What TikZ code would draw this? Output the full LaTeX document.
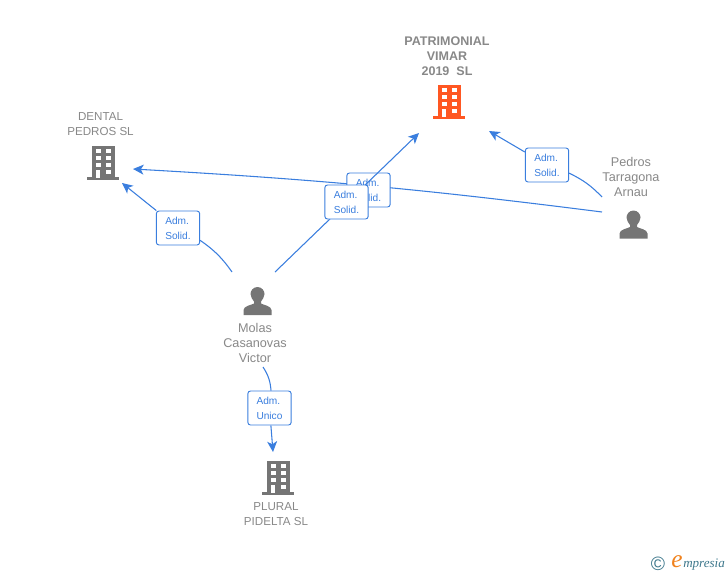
\documentclass[tikz,border=0pt]{standalone}
\usepackage{fontspec}
\setmainfont{Liberation Sans}
\newfontfamily\logofont{Liberation Serif}
\usetikzlibrary{arrows.meta}
\usetikzlibrary{positioning}
\definecolor{linkblue}{RGB}{58,126,222}
\definecolor{labelgray}{RGB}{136,136,136}
\definecolor{icongray}{RGB}{117,117,117}
\definecolor{iconorange}{RGB}{255,87,34}
\definecolor{logoteal}{RGB}{62,120,140}
\definecolor{logoorange}{RGB}{240,130,30}
\tikzset{
  link/.style={draw=linkblue,line width=0.8pt},
  linkto/.style={link,-{Stealth[length=8pt,width=7.5pt,inset=2.2pt]}},
  adm/.style={draw=linkblue,line width=0.7pt,fill=white,rounded corners=2pt,minimum width=32.5pt,minimum height=25.5pt,inner sep=0pt,align=left,text=linkblue,font=\fontsize{7.6}{11.2}\selectfont},
  who/.style={align=center,text=labelgray,inner sep=0pt,font=\fontsize{8.7}{11.25}\selectfont},
  whoperson/.style={who,font=\fontsize{9.5}{11.25}\selectfont},
  whomain/.style={who,font=\fontsize{9.4}{11.25}\selectfont\bfseries},
  building/.pic={
    \fill (-11,-34) rectangle (12,-3);
    \fill (-16,-3) rectangle (16,0);
    \foreach \y in {-31,-24,-17} {
      \fill[white] (-7.5,\y) rectangle (-2,\y+4.2);
      \fill[white] (2.5,\y) rectangle (8,\y+4.2);
    }
    \fill[white] (-7.5,-10) rectangle (-3,-2.5);
    \fill[white] (2.5,-10) rectangle (8,-5.8);
  },
  person/.pic={
    \fill (0,-28) .. controls (-4.5,-28) and (-7,-24) .. (-7,-21) .. controls (-7,-18) and (-5,-15.5) .. (-3.5,-13.5) -- (-3.5,-11.5) .. controls (-6,-10) and (-14,-9) .. (-14,-5) -- (-14,0) -- (14,0) -- (14,-5) .. controls (14,-9) and (6,-10) .. (3.5,-11.5) -- (3.5,-13.5) .. controls (5,-15.5) and (7,-18) .. (7,-21) .. controls (7,-24) and (4.5,-28) .. (0,-28) -- cycle;
  }
}
\begin{document}
\begin{tikzpicture}[x=0.75pt,y=-0.75pt]
\useasboundingbox (0,0) rectangle (728,575);
% company and person names
\node[whomain] (patrimonial) at (447,56) {PATRIMONIAL\\VIMAR\\2019\ \ SL};
\node[who] (dental) at (100.5,124) {DENTAL\\PEDROS SL};
\node[who] (plural) at (276,514) {PLURAL\\PIDELTA SL};
\node[whoperson] (pedros) at (631,177) {Pedros\\Tarragona\\Arnau};
\node[whoperson] (molas) at (255,343) {Molas\\Casanovas\\Victor};
% icons
\pic[iconorange] at (449,119) {building};
\pic[icongray] at (103,180) {building};
\pic[icongray] at (278,495) {building};
\pic[icongray] at (633.5,238.5) {person};
\pic[icongray] at (257.5,315) {person};
% free ends of the connectors
\coordinate (molasA) at (232,272);
\coordinate (molasB) at (275,272);
\coordinate (molasC) at (263,367);
\coordinate (pedrosA) at (602,197);
\coordinate (pedrosB) at (602,212);
\coordinate (dentalA) at (122,183);
\coordinate (dentalB) at (133,169);
\coordinate (patrimonialA) at (419,133);
\coordinate (patrimonialB) at (489,131);
\coordinate (pluralA) at (273,452);
% connectors and their boxes
\draw[linkto] (pedrosB) to[bend right=2] (dentalB);
\node[adm] (admPedrosB) at (368.5,190) {Adm.\\Solid.};
\draw[linkto] (molasB) -- (patrimonialA);
\node[adm] (admMolasB) at (346.5,202) {Adm.\\Solid.};
\node[adm] (admMolasA) at (178,228) {Adm.\\Solid.};
\draw[link] (molasA) to[bend right=10] (admMolasA);
\draw[linkto] (admMolasA) -- (dentalA);
\node[adm] (admPedrosA) at (547,165) {Adm.\\Solid.};
\draw[link] (pedrosA) to[bend right=10] (admPedrosA);
\draw[linkto] (admPedrosA) -- (patrimonialB);
\node[adm] (admMolasC) at (269.5,408) {Adm.\\Unico};
\draw[link] (molasC) to[bend left=14] (admMolasC);
\draw[linkto] (admMolasC) -- (pluralA);
% logo
\node[text=logoteal,inner sep=0pt,font=\fontsize{14.5}{14.5}\selectfont] (copyright) at (658,564) {©};
\node[text=logoorange,inner sep=0pt,font=\logofont\itshape\fontsize{19}{19}\selectfont] (logoe) at (677,562) {e};
\node[text=logoteal,inner sep=0pt,anchor=west,font=\logofont\itshape\fontsize{9.8}{10}\selectfont] (logotext) at (683,565) {mpresia};
\end{tikzpicture}
\end{document}
